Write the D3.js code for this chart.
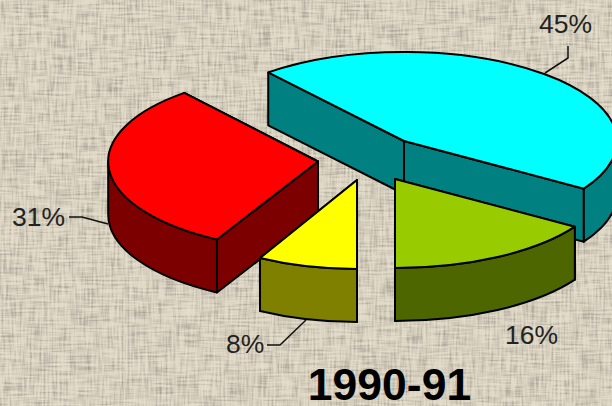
<!DOCTYPE html>
<html>
<head>
<meta charset="utf-8">
<script src="https://cdnjs.cloudflare.com/ajax/libs/d3/7.8.5/d3.min.js"></script>
<style>
  html, body { margin: 0; padding: 0; overflow: hidden; background: #e0d8c4; }
  svg { display: block; }
</style>
</head>
<body>
<script>
// chart values, clockwise from the cyan slice
var sliceValues = [45, 16, 8, 31];
var sliceLabels = ["45%", "16%", "8%", "31%"];
var chartTitle = "1990-91";

var topColors = ["#00ffff", "#99cc00", "#ffff00", "#ff0000"];
var sideColors = ["#008080", "#4d6600", "#808000", "#7d0000"];

var width = 612, height = 406;
var depth = 53;
var startAngle = -39.6 * Math.PI / 180;

// where each exploded slice has its tip
var tips = [[404, 141], [395, 179], [357, 180], [318, 161.5]];
// the 3D view pinches the far left slices a little
var rimWidth = [1, 1, 0.945, 0.985];

// label anchor points and leader lines
var labelPos = [[539, 33], [505, 344], [226, 353], [12, 226]];
var leaders = [
  [[568, 46], [568, 58], [545, 73]],
  null,
  [[267, 345], [280, 345], [306, 320]],
  [[69, 217], [82, 217], [108, 224]]
];

var rx = d3.scaleLinear().domain([-1, 1]).range([-213, 213]);
var ry = d3.scaleLinear().domain([-1, 1]).range([-89, 89]);

var svg = d3.select("body").append("svg")
  .attr("width", width)
  .attr("height", height);

// woven paper background
var filter = svg.append("defs").append("filter")
  .attr("id", "linen")
  .attr("x", 0).attr("y", 0).attr("width", "100%").attr("height", "100%")
  .attr("color-interpolation-filters", "sRGB");

var opaque = "1 0 0 0 0 0 1 0 0 0 0 0 1 0 0 0 0 0 0 1";
filter.append("feTurbulence").attr("type", "fractalNoise").attr("baseFrequency", "0.04 0.5")
  .attr("numOctaves", 2).attr("seed", 4).attr("result", "a");
filter.append("feColorMatrix").attr("in", "a").attr("values", opaque).attr("result", "h");
filter.append("feTurbulence").attr("type", "fractalNoise").attr("baseFrequency", "0.5 0.04")
  .attr("numOctaves", 2).attr("seed", 11).attr("result", "b");
filter.append("feColorMatrix").attr("in", "b").attr("values", opaque).attr("result", "v");
filter.append("feComposite").attr("in", "h").attr("in2", "v").attr("operator", "arithmetic")
  .attr("k1", 0).attr("k2", 0.5).attr("k3", 0.5).attr("k4", 0).attr("result", "mix");
var curve = filter.append("feComponentTransfer").attr("in", "mix").attr("result", "soft");
["feFuncR", "feFuncG", "feFuncB"].forEach(function(f) {
  curve.append(f).attr("type", "table").attr("tableValues", "0.58 0.62 0.7 0.8 0.88 0.9 0.92 0.94");
});
filter.append("feColorMatrix").attr("in", "soft")
  .attr("values", "1 0 0 0 0  0.965 0 0 0 0  0.885 0 0 0 0  0 0 0 0 1").attr("result", "tint");
filter.append("feGaussianBlur").attr("in", "tint").attr("stdDeviation", 0.5);

svg.append("rect")
  .attr("width", width).attr("height", height)
  .attr("filter", "url(#linen)");

var arcs = d3.pie().sort(null).startAngle(startAngle).endAngle(startAngle + 2 * Math.PI)(sliceValues);

function rim(i, a) {
  return [tips[i][0] + rx(Math.sin(a)) * rimWidth[i], tips[i][1] + ry(-Math.cos(a))];
}

function ellipseTo(i, p, large, sweep) {
  return "A" + rx(1) * rimWidth[i] + "," + ry(1) + " 0 " + large + "," + sweep + " " + p[0] + "," + p[1];
}

function topPath(d, i) {
  var large = d.endAngle - d.startAngle > Math.PI ? 1 : 0;
  return "M" + tips[i] + "L" + rim(i, d.startAngle) + ellipseTo(i, rim(i, d.endAngle), large, 1) + "Z";
}

function cutPath(i, a) {
  var p = rim(i, a), tip = tips[i];
  return "M" + tip + "L" + p + "L" + [p[0], p[1] + depth] + "L" + [tip[0], tip[1] + depth] + "Z";
}

// outer wall, only the part of the rim that faces the viewer
function wallPath(d, i) {
  var a0 = Math.max(d.startAngle, Math.PI / 2), a1 = Math.min(d.endAngle, 1.5 * Math.PI);
  if (a1 <= a0) return null;
  var p0 = rim(i, a0), p1 = rim(i, a1);
  return "M" + p0 + ellipseTo(i, p1, 0, 1) + "L" + [p1[0], p1[1] + depth] +
    ellipseTo(i, [p0[0], p0[1] + depth], 0, 0) + "Z";
}

var order = d3.range(arcs.length).sort(function(a, b) { return tips[a][1] - tips[b][1]; });

var slices = svg.selectAll("g.slice").data(order)
  .enter()
  .append("g")
  .attr("class", "slice")
  .attr("stroke", "#000")
  .attr("stroke-width", 2)
  .attr("stroke-linejoin", "round");

slices.each(function(i) {
  var g = d3.select(this), d = arcs[i];
  g.append("path").attr("d", cutPath(i, d.endAngle)).attr("fill", sideColors[i]);
  g.append("path").attr("d", cutPath(i, d.startAngle)).attr("fill", sideColors[i]);
  var wall = wallPath(d, i);
  if (wall) g.append("path").attr("d", wall).attr("fill", sideColors[i]);
  g.append("path").attr("d", topPath(d, i)).attr("fill", topColors[i]);
});

// leader lines
svg.selectAll("path.leader").data(leaders.filter(Boolean))
  .enter()
  .append("path")
  .attr("class", "leader")
  .attr("d", d3.line())
  .attr("fill", "none")
  .attr("stroke", "#111")
  .attr("stroke-width", 1.5);

svg.selectAll("text.pct").data(sliceLabels)
  .enter()
  .append("text")
  .attr("class", "pct")
  .attr("x", function(d, i) { return labelPos[i][0]; })
  .attr("y", function(d, i) { return labelPos[i][1]; })
  .attr("font-family", "Liberation Sans")
  .attr("font-size", "26.5px")
  .attr("fill", "#222")
  .text(function(d) { return d; });

svg.append("text")
  .attr("x", 389.5)
  .attr("y", 400)
  .attr("text-anchor", "middle")
  .attr("font-family", "Liberation Sans")
  .attr("font-weight", "bold")
  .attr("font-size", "44.5px")
  .attr("fill", "#000")
  .text(chartTitle);
</script>
</body>
</html>
